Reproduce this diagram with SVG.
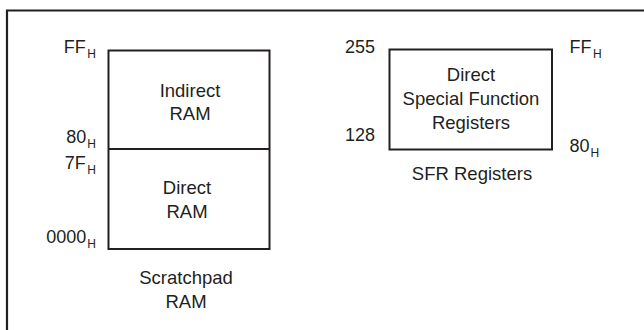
<svg xmlns="http://www.w3.org/2000/svg" width="644" height="330" viewBox="0 0 644 330">
<style>
.frame{fill:none;stroke:#231f20;stroke-width:2.2}
.box{fill:#fff;stroke:#231f20;stroke-width:2}
.t{font-family:"Liberation Sans",Arial,sans-serif;font-size:18.5px;fill:#231f20;text-anchor:middle}
.lab{font-family:"Liberation Sans",Arial,sans-serif;font-size:18px;fill:#231f20}
.sub{font-size:12px}
.end{text-anchor:end}
</style>
<rect width="644" height="330" fill="#fff"/>
<path class="frame" d="M7,332 V10.5 H646"/>
<g id="scratchpad">
<rect class="box" x="108.5" y="50.5" width="161" height="198.5"/>
<line class="box" x1="108.5" y1="149" x2="269.5" y2="149"/>
<text class="t" x="190" y="96.5">Indirect</text>
<text class="t" x="190" y="120">RAM</text>
<text class="t" x="187" y="194">Direct</text>
<text class="t" x="187" y="218">RAM</text>
<text class="t" x="186" y="284">Scratchpad</text>
<text class="t" x="186" y="307.5">RAM</text>
<text class="lab end" x="96" y="53">FF<tspan class="sub" dx="1.5" dy="5">H</tspan></text>
<text class="lab end" x="96" y="143">80<tspan class="sub" dx="1" dy="4.5">H</tspan></text>
<text class="lab end" x="96" y="169">7F<tspan class="sub" dx="1.5" dy="4.5">H</tspan></text>
<text class="lab end" x="96" y="243">0000<tspan class="sub" dx="1" dy="5">H</tspan></text>
</g>
<g id="sfr">
<rect class="box" x="389.5" y="49.5" width="162.5" height="100"/>
<text class="t" x="471" y="81">Direct</text>
<text class="t" x="471" y="105">Special Function</text>
<text class="t" x="471" y="129">Registers</text>
<text class="t" x="472" y="179.5">SFR Registers</text>
<text class="lab end" x="375" y="52.5">255</text>
<text class="lab end" x="375" y="141">128</text>
<text class="lab" x="569.5" y="52.5">FF<tspan class="sub" dx="1.5" dy="5">H</tspan></text>
<text class="lab" x="569.5" y="151.5">80<tspan class="sub" dx="1" dy="5">H</tspan></text>
</g>
<g id="connectors"></g>
</svg>
